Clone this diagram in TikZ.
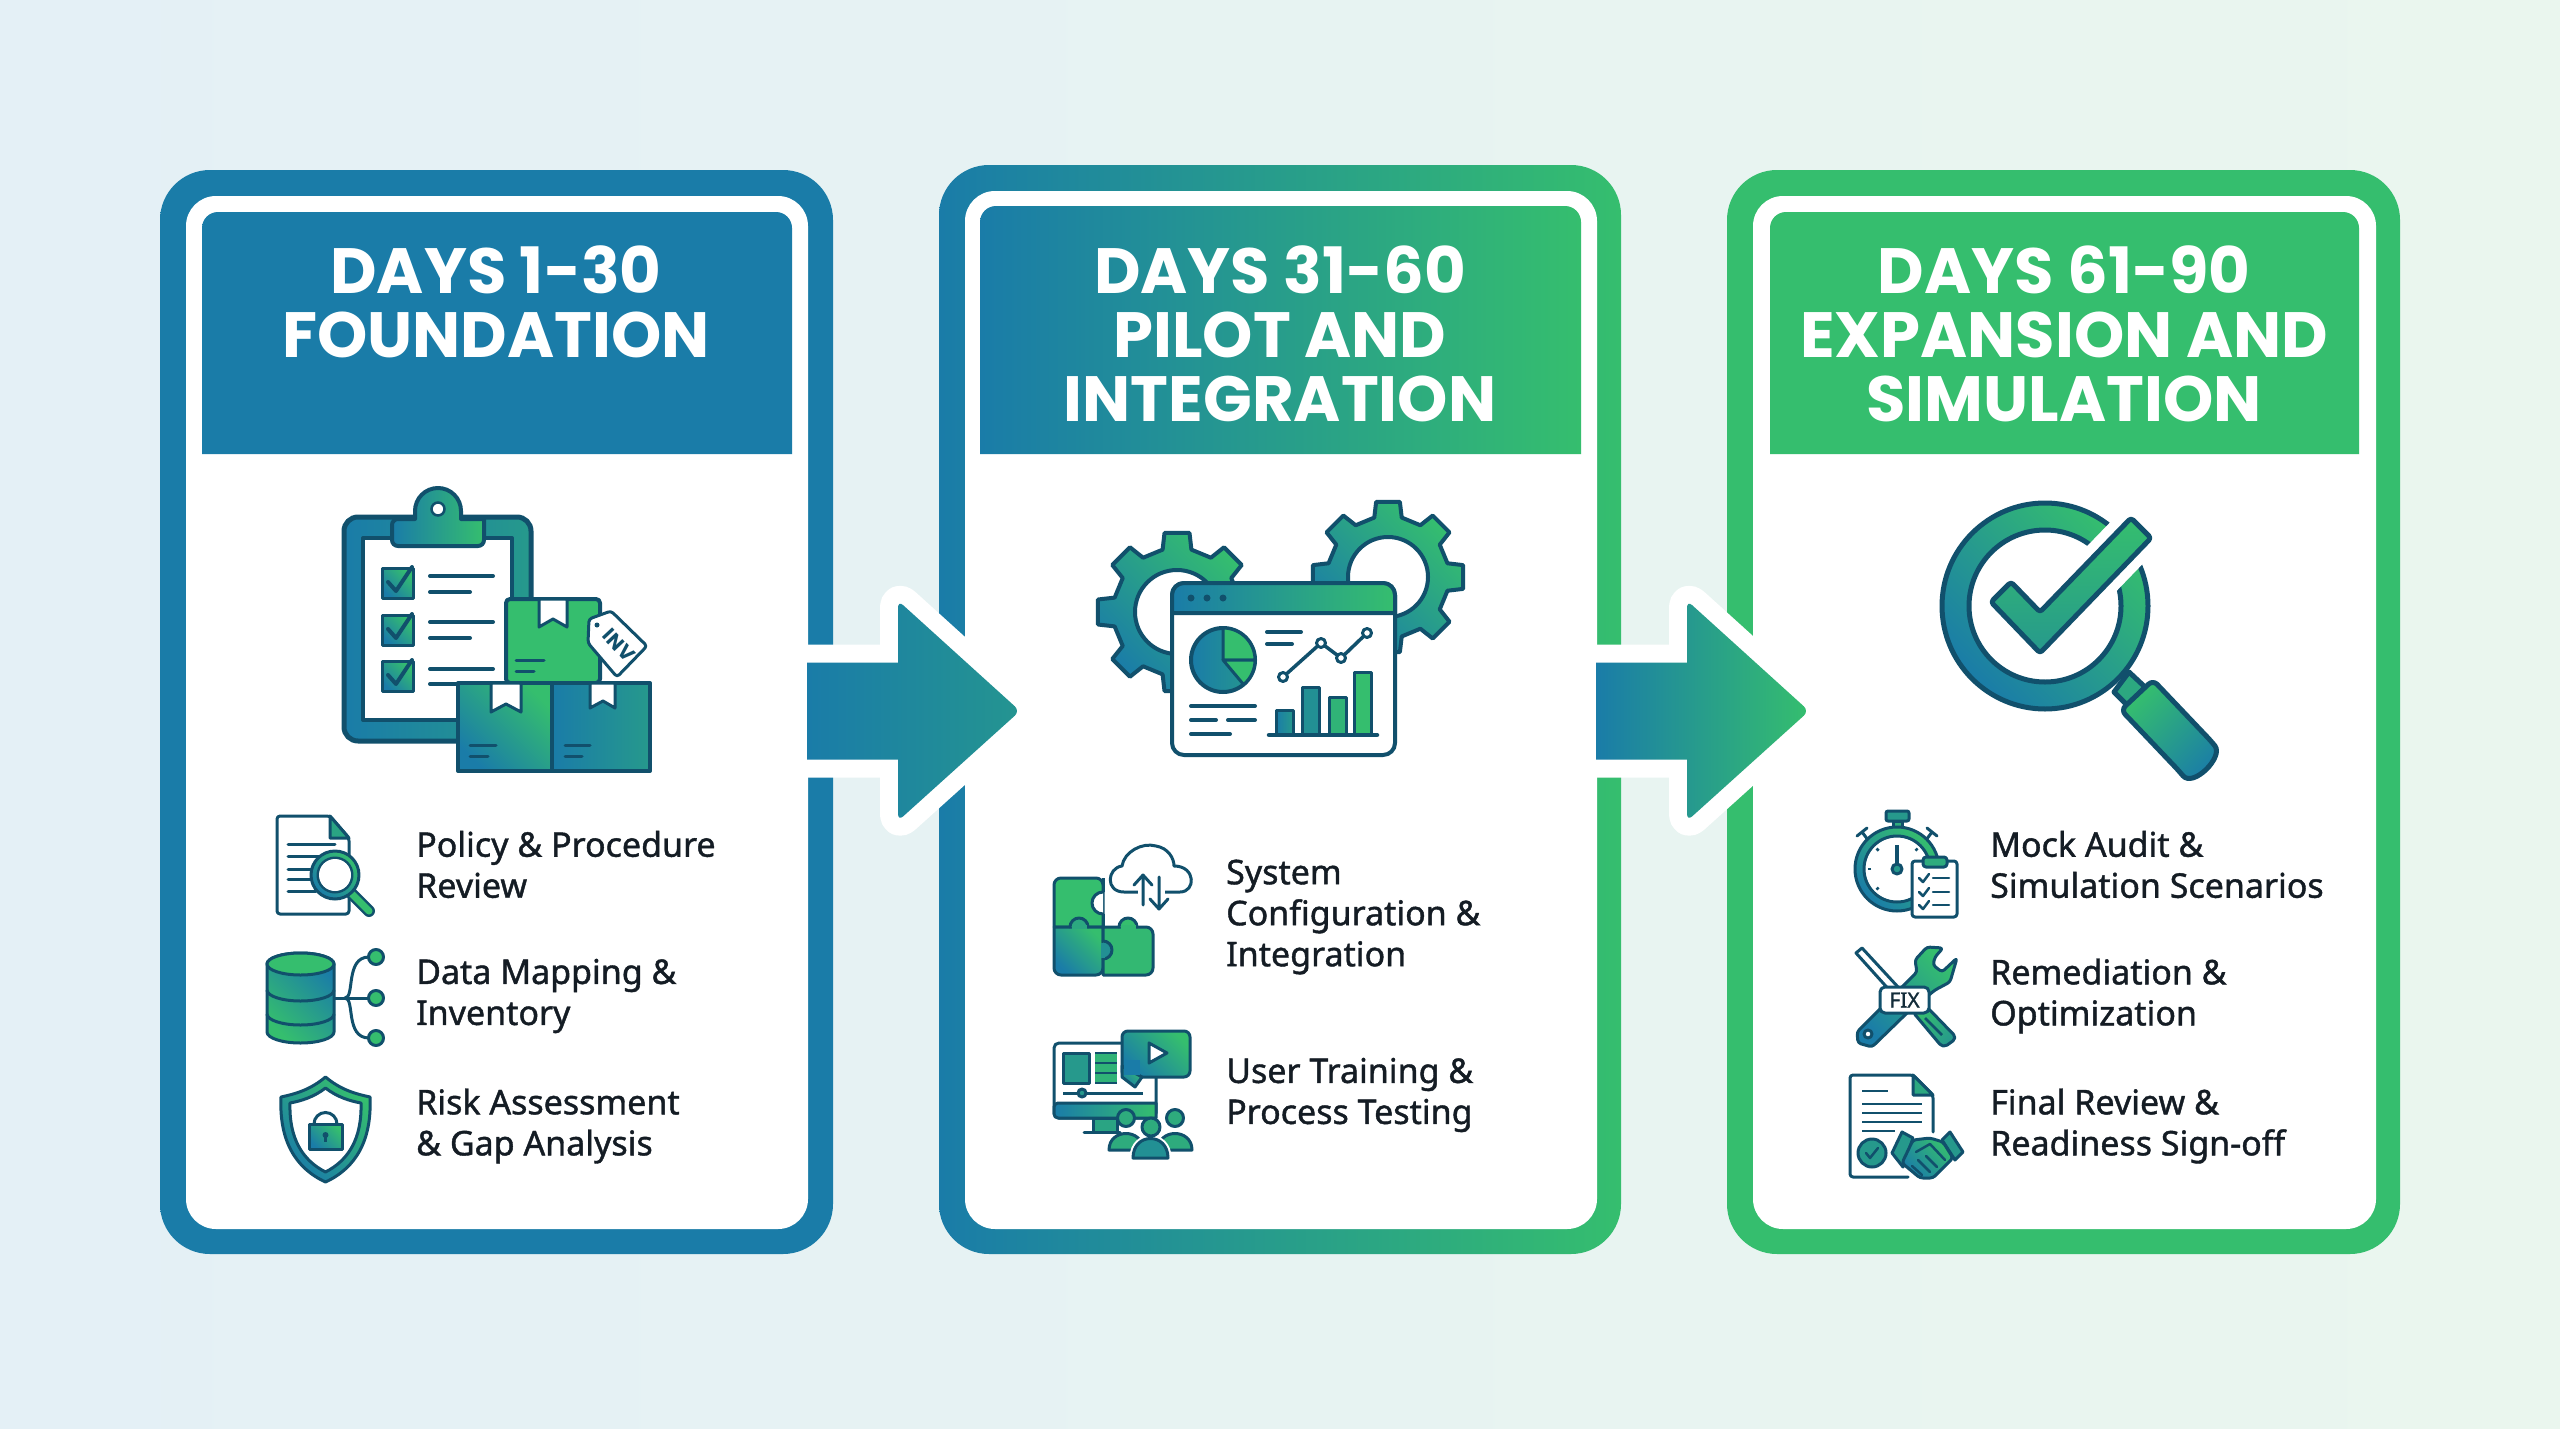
\documentclass[tikz,border=0pt]{standalone}
\usepackage{fontspec}
\setmainfont{Noto Sans}
\newfontfamily\headf{Poppins}
\newfontfamily\bodyf[FakeBold=1.2]{Noto Sans}
\usetikzlibrary{calc}
\definecolor{cB}{HTML}{1A7CA8}
\definecolor{cG}{HTML}{35BE6E}
\definecolor{cT}{HTML}{26998C}
\definecolor{ink}{HTML}{11506C}
\definecolor{txt}{HTML}{141C24}
\definecolor{bgL}{HTML}{E4F0F6}
\definecolor{bgR}{HTML}{EAF6EE}
\tikzset{
  x=1pt,y=-1pt,
  gh/.style={left color=cB,right color=cG},
  gd/.style={bottom color=cB,top color=cG,shading angle=-45},
  gdr/.style={bottom color=cG,top color=cB,shading angle=-45},
  ic/.style={draw=ink,line width=4,line join=round,line cap=round},
  ics/.style={draw=ink,line width=3,line join=round,line cap=round},
  hd/.style={font=\headf\bfseries\fontsize{64}{64}\selectfont,text=white,align=center,anchor=north,inner sep=0},
  bd/.style={font=\bodyf\fontsize{34}{41}\selectfont,text=txt,align=left,anchor=west,inner sep=0},
  halo/.style={draw=white,line width=36,line join=round},
}
\newcommand\gearshape[6]{% cx cy ro ri style-angle
  \path[#6] ([shift={(#1,#2)}]{#5-13}:#4)
  \foreach \k in {0,...,7}{
    -- ([shift={(#1,#2)}]{\k*45+#5-13}:#4)
    -- ([shift={(#1,#2)}]{\k*45+#5-9}:#3)
    -- ([shift={(#1,#2)}]{\k*45+#5+9}:#3)
    -- ([shift={(#1,#2)}]{\k*45+#5+13}:#4)
  } -- cycle;
}
\newcommand\bigarrowpath[2]{(#1)++(0,-48.5) -- ++(91,0) [rounded corners=7] -- ++(0,-62) -- (#2) -- ($(#1)+(91,110)$) [sharp corners] -- ++(0,-61.5) -- ++(-91,0) -- cycle}
\begin{document}
\begin{tikzpicture}
\useasboundingbox (0,0) rectangle (2560,1429);
\shade[left color=bgL,right color=bgR] (0,0) rectangle (2560,1429);

% ---------- panels
\shade[left color=cB,right color=cB,rounded corners=50] (160,170) rectangle (833,1254);
\fill[white,rounded corners=30] (186,196) rectangle (808,1229);
\shade[left color=cB,right color=cB] (202,454) [rounded corners=16] -- (202,212) -- (792,212) [sharp corners] -- (792,454) -- cycle;

\shade[gh,rounded corners=50] (939,165) rectangle (1621,1254);
\fill[white,rounded corners=30] (965,191) rectangle (1597,1229);
\shade[gh] (980,454) [rounded corners=16] -- (980,206) -- (1581,206) [sharp corners] -- (1581,454) -- cycle;

\shade[left color=cG,right color=cG,rounded corners=50] (1727,170) rectangle (2400,1254);
\fill[white,rounded corners=30] (1753,196) rectangle (2376,1229);
\shade[left color=cG,right color=cG] (1770,454) [rounded corners=16] -- (1770,212) -- (2359,212) [sharp corners] -- (2359,454) -- cycle;

% ---------- headers
\node[hd] (h1) at (496,245) {DAYS 1-30\\FOUNDATION};
\node[hd] (h2) at (1280,245) {DAYS 31-60\\PILOT AND\\INTEGRATION};
\node[hd] (h3) at (2064,245) {DAYS 61-90\\EXPANSION AND\\SIMULATION};

% ---------- arrows
\coordinate (a1s) at (807,711);
\coordinate (a1t) at (1020,711);
\coordinate (a2s) at (1596,711);
\coordinate (a2t) at (1809,711);
\path[halo] \bigarrowpath{a1s}{a1t};
\shade[left color=cB,right color=cT!85!cB] \bigarrowpath{a1s}{a1t};
\path[halo] \bigarrowpath{a2s}{a2t};
\shade[left color=cB,right color=cG] \bigarrowpath{a2s}{a2t};

% ---------- clipboard + boxes icon
\path[ic,line width=5,left color=cB,right color=cT,rounded corners=14] (344,517) rectangle (531,741);
\path[ic,fill=white] (363,538) rectangle (512,720);
\path[ic,gh] (415,511) arc (180:360:23) -- (461,519) -- (484,519) [rounded corners=6] -- (484,546) -- (392,546) -- (392,519) [sharp corners] -- (415,519) -- cycle;
\fill[white,draw=ink,line width=2.5] (438,509) circle (6.5);
\foreach \yy/\la/\lb in {568/576/592,615/622/638,661/669/684}{
  \path[ics,gd] (382,\yy) rectangle ++(31,30);
  \draw[ink,line width=4,line cap=round,line join=round] ($(388,\yy)+(0,14)$) -- ++(8,9) -- ++(16,-24);
  \draw[ink,line width=4,line cap=round] (430,\la) -- (493,\la);
  \draw[ink,line width=4,line cap=round] (430,\lb) -- (470,\lb);
}
\path[ic,fill=cG,rounded corners=4] (506,683) -- (506,599) -- (600,599) -- (600,683) -- cycle;
\path[ics,fill=white] (539,599) -- (539,627) -- (553,619) -- (567,627) -- (567,599) -- cycle;
\draw[ink,line width=3,line cap=round] (516,660) -- (544,660) (516,671) -- (534,671);
\path[ics,fill=white,rounded corners=3] (589,619) -- (611,611) -- (647,646) -- (617,677) -- (588,643) -- cycle;
\fill[ink] (597,625) circle (2.5);
\node[rotate=-47,inner sep=0,text=ink,font=\headf\bfseries\fontsize{20}{20}\selectfont] (tag) at (619,645) {INV};
\path[ic,gd] (458,683) rectangle (552,771);
\path[ic,left color=cB,right color=cT] (552,683) rectangle (650,771);
\path[ics,fill=white] (491,683) -- (491,712) -- (506,704) -- (521,712) -- (521,683) -- cycle;
\path[ics,fill=white] (590,683) -- (590,708) -- (603,701) -- (615,708) -- (615,683) -- cycle;
\draw[ink,line width=3,line cap=round] (470,745) -- (496,745) (470,756) -- (488,756) (565,745) -- (590,745) (565,756) -- (582,756);

% ---------- doc + magnifier
\path[ics,fill=white,rounded corners=3] (349,914) -- (277,914) -- (277,816) -- (330,816) -- (349,838) -- cycle;
\path[ics,fill=cT!70!cG] (330,816) -- (330,838) -- (349,838) -- cycle;
\foreach \yy/\xe in {844/335,856/320,869/312,879/312,891/316}{\draw[ink,line width=3,line cap=round] (288,\yy) -- (\xe,\yy);}
\draw[ink,line width=12,line cap=round] (352,894) -- (369,911);
\draw[cG,line width=7,line cap=round] (352,894) -- (369,911);
\path[ics,gd,even odd rule] (335,875) circle (24) (335,875) circle (17);
\fill[white] (335,875) circle (16);

% ---------- database
\path[ics,gdr] (267,964) arc (180:360:33.5 and 11) -- (334,1032) arc (0:180:33.5 and 11) -- cycle;
\path[ics,fill=cG] (300.5,964) ellipse (33.5 and 11);
\draw[ink,line width=3] (267,990) arc (180:0:33.5 and 11);
\draw[ink,line width=3] (267,1014) arc (180:0:33.5 and 11);
\draw[ink,line width=3] (334,998) -- (369,998);
\draw[ink,line width=3] (369,957) .. controls (345,957) and (355,998) .. (345,998) .. controls (355,998) and (345,1038) .. (369,1038);
\foreach \yy in {957,998,1038}{\path[ics,fill=cG] (376,\yy) circle (7.5);}

% ---------- shield + lock
\path[ics,gd] (325.5,1077) .. controls (310,1090) and (295,1094) .. (281,1097) .. controls (279,1140) and (295,1168) .. (325.5,1182) .. controls (356,1168) and (372,1140) .. (370,1097) .. controls (356,1094) and (341,1090) .. (325.5,1077) -- cycle;
\path[ics,fill=white] (325.5,1088) .. controls (314,1097) and (301,1101) .. (290,1103) .. controls (289,1138) and (302,1160) .. (325.5,1172) .. controls (349,1160) and (362,1138) .. (361,1103) .. controls (350,1101) and (337,1097) .. (325.5,1088) -- cycle;
\draw[ink,line width=3] (314,1124) arc (180:360:11.5);
\path[ics,gd] (309,1124) rectangle (342,1149);
\fill[ink] (325.5,1135) circle (3);
\draw[ink,line width=2.5] (325.5,1135) -- (325.5,1142);

% ---------- gears + dashboard
\gearshape{1177}{612}{80}{64}{0}{ic,gd}
\path[ic,fill=white] (1177,612) circle (42);
\gearshape{1388}{577}{76}{61}{0}{ic,gd}
\path[ic,fill=white] (1388,577) circle (40);
\path[ic,fill=white,rounded corners=12] (1172,583) rectangle (1395,755);
\path[ic,gh] (1172,613) [rounded corners=12] -- (1172,583) -- (1395,583) [sharp corners] -- (1395,613) -- cycle;
\foreach \xx in {1191,1207,1223}{\fill[ink] (\xx,598) circle (3.5);}
\path[ic,left color=cB,right color=cT] (1223,660) circle (32);
\path[ics,fill=cG] (1223,660) -- (1223,628) arc (270:360:32) -- cycle;
\path[ics,fill=cG] (1223,660) -- (1255,660) arc (0:50:32) -- cycle;
\draw[ink,line width=4,line cap=round] (1267,632) -- (1301,632) (1267,644) -- (1292,644) (1191,706) -- (1255,706) (1191,720) -- (1216,720) (1228,720) -- (1255,720) (1191,734) -- (1230,734);
\draw[ink,line width=3.5] (1283,677) -- (1321,643) -- (1341,658) -- (1367,633);
\foreach \xx/\yy in {1283/677,1321/643,1341/658,1367/633}{\path[ics,fill=white] (\xx,\yy) circle (4.5);}
\path[ics,left color=cB,right color=cT] (1276,710) rectangle (1293,735);
\path[ics,fill=cT!70!cB] (1302,687) rectangle (1319,735);
\path[ics,fill=cT!30!cG] (1329,697) rectangle (1346,735);
\path[ics,fill=cG] (1354,672) rectangle (1371,735);
\draw[ink,line width=4.5,line cap=round] (1269,735) -- (1377,735);

% ---------- puzzle + cloud
\path[ics,fill=cG] (1054,927) [rounded corners=7] -- (1054,878) -- (1103,878) [sharp corners] -- (1103,927) -- cycle;
\path[ics,gd] (1054,927) [rounded corners=7] -- (1054,975) -- (1103,975) [sharp corners] -- (1103,927) -- cycle;
\path[ics,fill=cG!85!cT] (1103,975) [rounded corners=7] -- (1153,975) -- (1153,927) [sharp corners] -- (1103,927) -- cycle;
\path[ics,fill=white] (1103,892) arc (270:90:11);
\fill[white] (1104.5,890) rectangle (1112,916);
\draw[ink,line width=3] (1103,878) -- (1103,892) (1103,914) -- (1103,927);
\path[ics,fill=cT!60!cG] (1070,927) arc (180:360:9);
\path[ics,fill=cG] (1119,927) arc (180:360:9);
\fill[cT!60!cG] (1071.5,925) rectangle (1086.5,929);
\fill[cG!85!cT] (1120.5,925) rectangle (1135.5,929);
\path[ics,fill=cT!70!cB] (1103,941) arc (-90:90:9);
\fill[cT!70!cB] (1101,942.5) rectangle (1105,957.5);
\path[ics,fill=white] (1143,892) -- (1124,892) .. controls (1105,892) and (1107,868) .. (1122,866) .. controls (1124,852) and (1142,842) .. (1156,846) .. controls (1168,848) and (1174,858) .. (1174,866) .. controls (1196,866) and (1196,892) .. (1180,892) -- (1143,892);
\fill[white] (1138,888) rectangle (1165,896);
\draw[ink,line width=3,line cap=round,line join=round] (1143,905) -- (1143,875) (1134,885) -- (1143,875) -- (1152,885);
\draw[ink,line width=3,line cap=round,line join=round] (1159,877) -- (1159,909) (1150,899) -- (1159,909) -- (1168,899);

% ---------- monitor + people
\draw[ink,line width=3,fill=cT!70!cG] (1093,1118) rectangle (1117,1132);
\draw[ink,line width=3,line cap=round] (1084,1132) -- (1120,1132);
\path[ics,fill=white,rounded corners=5] (1054,1043) rectangle (1156,1118);
\path[ics,gh] (1054,1103) -- (1156,1103) -- (1156,1118) [rounded corners=4] -- (1054,1118) -- cycle;
\path[ics,fill=cT] (1063,1053) rectangle (1089,1083);
\fill[cG!70!cT] (1095,1053) rectangle (1117,1083);
\draw[ink,line width=2.5] (1095,1063) -- (1117,1063) (1095,1073) -- (1117,1073) (1095,1083) -- (1117,1083) (1095,1053) -- (1117,1053);
\draw[ink,line width=3] (1063,1093) -- (1143,1093);
\path[ics,fill=cT] (1082,1093) circle (4);
\path[ics,gd,rounded corners=6] (1122,1031) rectangle (1190,1077);
\path[ics,gd] (1122,1066) -- (1122,1077) -- (1135,1087) -- (1142,1077) -- cycle;
\fill[cB] (1124,1060) rectangle (1140,1075);
\path[ics,fill=white] (1149,1043) -- (1167,1053) -- (1149,1063) -- cycle;
\foreach \cx/\cy/\fc in {1126/1118/cG,1175/1118/cG}{
  \path[ics,fill=cT!50!cG] (\cx-17,1150) .. controls (\cx-17,1128) and (\cx+17,1128) .. (\cx+17,1150) -- cycle;
  \path[ics,fill=cT!50!cG] (\cx,\cy) circle (8.5);
}
\path[ics,draw=white,line width=7] (1133,1158) .. controls (1133,1132) and (1168,1132) .. (1168,1158) -- cycle;
\path[ics,fill=cT!70!cB] (1133,1158) .. controls (1133,1132) and (1168,1132) .. (1168,1158) -- cycle;
\path[ics,fill=cT!50!cG] (1151,1127) circle (9);

% ---------- magnifier + check
\path[ic,line width=5,bottom color=cB,top color=cG,shading angle=-45,even odd rule] (2045,606) circle (103) (2045,606) circle (76);
\path[draw=white,line width=24,line join=round,fill=white] (2011,582) -- (1991,602) -- (2040,653) -- (2151,538) -- (2131,518) -- (2040,612) -- cycle;
\path[ic,line width=5,rounded corners=3,gd,top color=cG,bottom color=cT] (2011,582) -- (1991,602) -- (2040,653) -- (2151,538) -- (2131,518) -- (2040,612) -- cycle;
\path[ic,line width=5,fill=cT!60!cG] (2114,692) -- (2129,672) -- (2145,687) -- (2128,706) -- cycle;
\path[ic,line width=5,bottom color=cG,top color=cB,shading angle=-135,rounded corners=6] (2153,680) -- (2211,741) .. controls (2224,757) and (2193,788) .. (2179,771) -- (2121,710) -- cycle;

% ---------- stopwatch + clipboard
\path[ics,fill=cT] (1886,811) [rounded corners=2] rectangle (1909,821);
\path[ics,fill=cT!50!cG] (1893,821) rectangle (1902,828);
\draw[ink,line width=3,line cap=round] (1862,832) -- (1868,840) (1857,836) -- (1867,828) (1932,832) -- (1926,840) (1937,836) -- (1927,828);
\path[ics,gd,even odd rule] (1897,869) circle (42) (1897,869) circle (33);
\fill[white] (1897,869) circle (31);
\foreach \ang in {0,45,135,180,225,315}{\draw[ink,line width=2.5] ([shift={(1897,869)}]\ang:26) -- ([shift={(1897,869)}]\ang:29);}
\draw[ink,line width=3.5] (1897,845) -- (1897,869);
\path[ics,fill=cT] (1897,869) circle (5);
\path[ics,fill=white,rounded corners=3] (1912,861) rectangle (1957,917);
\path[ics,fill=cT!50!cG,rounded corners=3] (1923,857) rectangle (1947,867);
\foreach \yy in {878,892,905}{
  \draw[ink,line width=2.5,line cap=round,line join=round] (1919,\yy) -- ++(4,4) -- ++(6,-8);
  \draw[ink,line width=2.5,line cap=round] (1933,\yy) -- (1949,\yy);
}

% ---------- wrench + screwdriver
\path[ics,fill=white] (1856,953) -- (1862,948) -- (1898,987) -- (1892,993) -- cycle;
\path[ics,bottom color=cT,top color=cG,shading angle=45,rounded corners=5] (1912,1011) -- (1925,1005) -- (1957,1038) -- (1943,1048) -- cycle;
\draw[ink,line width=2.5] (1925,1018) -- (1942,1035);
\path[ics,gd,rounded corners=3] (1943,948) -- (1927,947) -- (1915,960) -- (1917,972) -- (1902,987) -- (1857,1032) -- (1858,1043) -- (1872,1047) -- (1907,1013) -- (1935,990) -- (1950,982) -- (1957,958) -- (1942,972) -- (1933,965) -- (1935,957) -- cycle;
\path[ics,fill=white] (1868,1034) circle (4);
\path[ics,fill=white,rounded corners=5] (1880,987) rectangle (1929,1013);
\node[inner sep=0,text=txt!70!ink,font=\bodyf\fontsize{21}{21}\selectfont] (fix) at (1904.5,1000) {FIX};

% ---------- doc + handshake
\path[ics,fill=white,rounded corners=3] (1908,1177) -- (1850,1177) -- (1850,1075) -- (1913,1075) -- (1933,1095) -- (1933,1132);
\path[ics,fill=cT!60!cG] (1913,1075) -- (1913,1095) -- (1933,1095) -- cycle;
\foreach \yy/\xe in {1091/1888,1104/1922,1113/1922,1122/1922,1131/1895}{\draw[ink,line width=2.5] (1862,\yy) -- (\xe,\yy);}
\path[ics,fill=cT] (1872,1153) circle (14);
\draw[ink,line width=2.5,line cap=round,line join=round] (1866,1153) -- (1870,1158) -- (1878,1148);
\path[ics,fill=cT] (1902,1132) -- (1913,1138) -- (1903,1167) -- (1892,1153) -- cycle;
\path[ics,fill=cT] (1950,1132) -- (1963,1152) -- (1955,1160) -- (1942,1140) -- cycle;
\path[ics,gd,rounded corners=3] (1913,1140) -- (1930,1138) -- (1943,1142) -- (1953,1158) -- (1933,1178) -- (1920,1178) -- (1902,1163) -- cycle;
\draw[ink,line width=2.5,line cap=round,line join=round] (1916,1152) -- (1930,1144) -- (1945,1160) (1912,1166) -- (1922,1175) (1918,1160) -- (1930,1172) (1926,1156) -- (1937,1167);

% ---------- body text
\node[bd] (t11) at (416,864.5) {Policy \& Procedure\\Review};
\node[bd] (t12) at (416,996) {Data Mapping \&\\Inventory};
\node[bd] (t13) at (416,1126) {Risk Assessment\\\& Gap Analysis};
\node[bd] (t21) at (1226,917) {System\\Configuration \&\\Integration};
\node[bd] (t22) at (1226,1095) {User Training \&\\Process Testing};
\node[bd] (t31) at (1990,864.5) {Mock Audit \&\\Simulation Scenarios};
\node[bd] (t32) at (1990,996) {Remediation \&\\Optimization};
\node[bd] (t33) at (1990,1126) {Final Review \&\\Readiness Sign-off};
\end{tikzpicture}
\end{document}
